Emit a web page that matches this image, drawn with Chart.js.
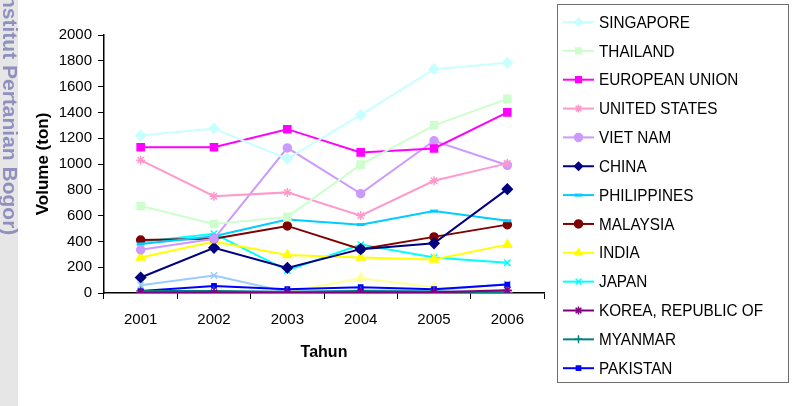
<!DOCTYPE html>
<html>
<head>
<meta charset="utf-8">
<script src="https://cdn.jsdelivr.net/npm/chart.js@4/dist/chart.umd.min.js"></script>
<style>
  html, body { margin: 0; padding: 0; background: #fff; }
  #wrap { width: 792px; height: 406px; position: relative; }
</style>
</head>
<body>
<div id="wrap"><canvas id="chart" width="792" height="406"></canvas></div>
<script>
// data
const years = ["2001", "2002", "2003", "2004", "2005", "2006"];
const yTicks = [0, 200, 400, 600, 800, 1000, 1200, 1400, 1600, 1800, 2000];

const singapore     = [1220, 1275, 1040, 1380, 1735, 1785];
const thailand      = [675, 535, 590, 995, 1300, 1505];
const europeanUnion = [1130, 1130, 1270, 1090, 1120, 1400];
const unitedStates  = [1030, 750, 780, 600, 870, 1005];
const vietNam       = [335, 420, 1125, 770, 1180, 990];
const china         = [120, 350, 195, 340, 385, 805];
const philippines   = [380, 440, 570, 530, 635, 560];
const malaysia      = [410, 420, 520, 340, 435, 530];
const india         = [275, 400, 295, 275, 260, 375];
const japan         = [395, 460, 175, 375, 275, 235];
const korea         = [2, 3, 2, 3, 5, 22];
const myanmar       = [15, 15, 10, 15, 12, 5];
const pakistan      = [15, 55, 30, 45, 30, 65];
// two series are plotted but their legend entries are cut off
const hiddenA       = [60, 135, 8, 20, 20, 70];
const hiddenB       = [5, 5, 10, 115, 45, 20];

const seriesNames = ["SINGAPORE", "THAILAND", "EUROPEAN UNION", "UNITED STATES", "VIET NAM",
  "CHINA", "PHILIPPINES", "MALAYSIA", "INDIA", "JAPAN", "KOREA, REPUBLIC OF", "MYANMAR", "PAKISTAN",
  "LAINNYA 1", "LAINNYA 2"];
const seriesValues = [singapore, thailand, europeanUnion, unitedStates, vietNam, china, philippines,
  malaysia, india, japan, korea, myanmar, pakistan, hiddenA, hiddenB];
const legendCount = 13;

// look of each series (Excel-like colours & markers)
const styles = [
  { c: "#c8ffff", p: "rectRot", r: 5 },
  { c: "#ccffcc", p: "rect", r: 5 },
  { c: "#ff00ff", p: "rect", r: 5 },
  { c: "#ff99cc", p: "star", r: 4.5 },
  { c: "#cc99ff", p: "circle", r: 4 },
  { c: "#000080", p: "rectRot", r: 5 },
  { c: "#00ccff", p: "line", r: 4, bw: 3 },
  { c: "#800000", p: "circle", r: 4 },
  { c: "#ffff00", p: "triangle", r: 5 },
  { c: "#00ffff", p: "crossRot", r: 4.5 },
  { c: "#800080", p: "star", r: 4.5 },
  { c: "#008080", p: "cross", r: 4.5 },
  { c: "#0000ff", p: "rect", r: 3 },
  { c: "#99ccff", p: "crossRot", r: 4.5 },
  { c: "#ffff99", p: "triangle", r: 5 }
];

const datasets = seriesValues.map((vals, i) => {
  const s = styles[i];
  return {
    label: seriesNames[i],
    data: vals,
    borderColor: s.c,
    backgroundColor: s.c,
    borderWidth: 2,
    pointStyle: s.p,
    pointRadius: s.r,
    pointBorderWidth: s.bw || 1.5,
    pointBackgroundColor: s.c,
    pointBorderColor: s.c,
    tension: 0,
    fill: false
  };
});

const FONT = "'Liberation Sans', Arial, sans-serif";

// grey side band with the watermark text
const watermark = {
  id: "watermark",
  beforeDraw(chart) {
    const ctx = chart.ctx;
    ctx.save();
    ctx.fillStyle = "#e6e6e6";
    ctx.fillRect(0, 0, 18, 406);
    ctx.translate(9, 0);
    ctx.rotate(Math.PI / 2);
    ctx.font = "bold 21px " + FONT;
    ctx.fillStyle = "#9090bf";
    ctx.textBaseline = "middle";
    const w = ctx.measureText("Institut ").width;
    ctx.fillText("Institut Pertanian Bogor)", 65 - w, 0);
    ctx.restore();
  }
};

// boxed legend on the right, line sample with marker
const boxLegend = {
  id: "boxLegend",
  afterDraw(chart) {
    const ctx = chart.ctx;
    ctx.save();
    ctx.strokeStyle = "#6e6e6e";
    ctx.lineWidth = 1;
    ctx.strokeRect(557.5, 4.5, 231, 378);
    for (let i = 0; i < legendCount; i++) {
      const ds = chart.data.datasets[i];
      const y = 22 + i * 28.85;
      ctx.strokeStyle = ds.borderColor;
      ctx.fillStyle = ds.borderColor;
      ctx.lineWidth = 2;
      ctx.beginPath();
      ctx.moveTo(563, y);
      ctx.lineTo(594, y);
      ctx.stroke();
      ctx.lineWidth = ds.pointBorderWidth;
      Chart.helpers.drawPoint(ctx, {
        pointStyle: ds.pointStyle,
        radius: Math.min(ds.pointRadius, 4),
        borderWidth: ds.pointBorderWidth,
        rotation: 0
      }, 578.5, y);
      ctx.save();
      ctx.translate(599, y);
      ctx.scale(0.9, 1);
      ctx.fillStyle = "#000";
      ctx.font = "17px " + FONT;
      ctx.textBaseline = "middle";
      ctx.fillText(ds.label, 0, 1);
      ctx.restore();
    }
    ctx.restore();
  }
};

new Chart(document.getElementById("chart"), {
  type: "line",
  data: { labels: years, datasets: datasets },
  plugins: [watermark, boxLegend],
  options: {
    responsive: false,
    animation: false,
    layout: { padding: { left: 0, top: 35, right: 248, bottom: 0 } },
    plugins: { legend: { display: false }, tooltip: { enabled: false } },
    scales: {
      x: {
        offset: true,
        afterFit: (s) => { s.height = 113; },
        grid: { offset: true, drawOnChartArea: false, color: "#000", tickLength: 6, tickWidth: 1 },
        border: { display: true, color: "#000", width: 1.5 },
        ticks: { color: "#000", font: { family: FONT, size: 15 }, padding: 12, maxRotation: 0 },
        title: { display: true, text: "Tahun", color: "#000",
          font: { family: FONT, size: 16, weight: "bold" }, padding: { top: 0, bottom: 44 } }
      },
      y: {
        min: 0,
        max: 2000,
        afterFit: (s) => { s.width = 104; },
        afterBuildTicks: (s) => { s.ticks = yTicks.map(v => ({ value: v })); },
        grid: { drawOnChartArea: false, color: "#000", tickLength: 6, tickWidth: 1 },
        border: { display: true, color: "#000", width: 1.5 },
        ticks: { color: "#000", font: { family: FONT, size: 15 }, padding: 6,
          callback: (v) => String(v) },
        title: { display: true, text: "Volume (ton)", color: "#000",
          font: { family: FONT, size: 17, weight: "bold" }, padding: { top: 33, bottom: 0 } }
      }
    }
  }
});
</script>
</body>
</html>
